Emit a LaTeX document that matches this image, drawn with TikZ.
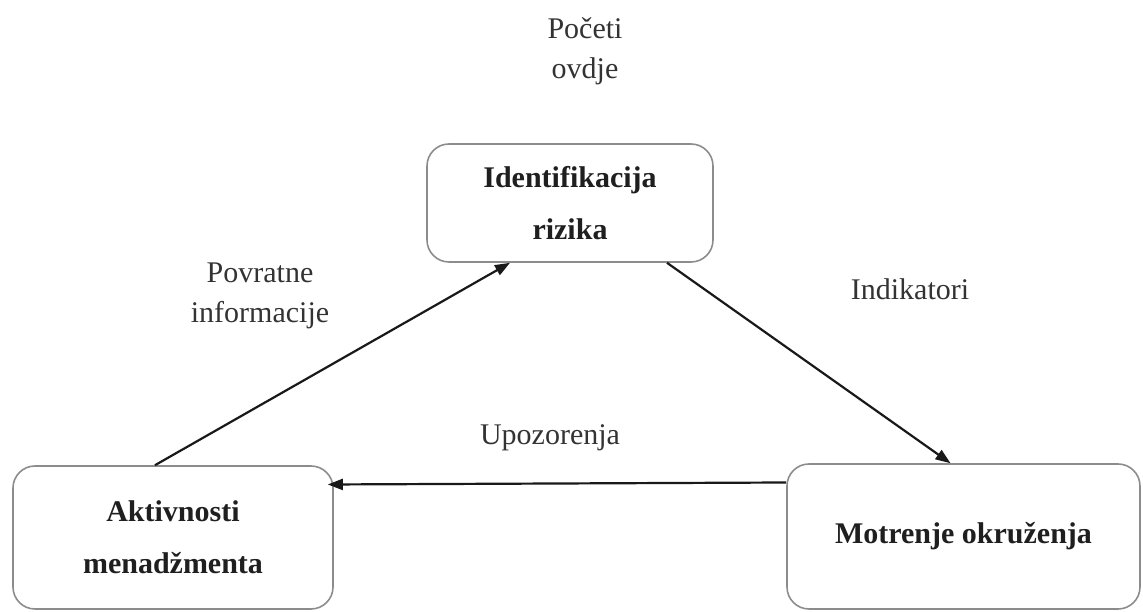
\documentclass[tikz,border=0pt]{standalone}
\usepackage{fontspec}
\setmainfont{Liberation Serif}
\usetikzlibrary{arrows.meta}
\begin{document}
\begin{tikzpicture}[x=1pt,y=1pt,
  box/.style={draw=black!45, line width=1.6pt, rounded corners=22pt, inner sep=0pt,
    align=center, text=black!88, font=\fontsize{30}{52}\selectfont\bfseries},
  lbl/.style={text=black!80, align=center, font=\fontsize{30}{40}\selectfont},
  arr/.style={draw=black!90, line width=2.2pt, -{Triangle[length=15pt,width=11pt]}}]
\useasboundingbox (0,0) rectangle (1143,612);
\node[box, minimum width=286pt, minimum height=118pt] (ident) at (570,409) {Identifikacija\\rizika};
\node[box, minimum width=320pt, minimum height=143pt] (akt) at (173,74.5) {Aktivnosti\\menadžmenta};
\node[box, minimum width=353pt, minimum height=145pt] (mot) at (963.5,75.5) {\raisebox{8pt}{Motrenje okruženja}};
\node[lbl] (start) at (585,561) {Početi\\ovdje};
\node[lbl] (povr) at (260,316) {Povratne\\informacije};
\node[lbl, anchor=base] (ind) at (910,312) {Indikatori};
\node[lbl, anchor=base] (upo) at (550,167) {Upozorenja};
\draw[arr] ([xshift=-18pt]akt.north) -- ([xshift=-60pt]ident.south);
\draw[arr] ([xshift=97pt]ident.south) -- ([xshift=-13pt]mot.north);
\draw[arr] ([yshift=54pt]mot.west) -- ([xshift=-6pt,yshift=53pt]akt.east);
\end{tikzpicture}
\end{document}
